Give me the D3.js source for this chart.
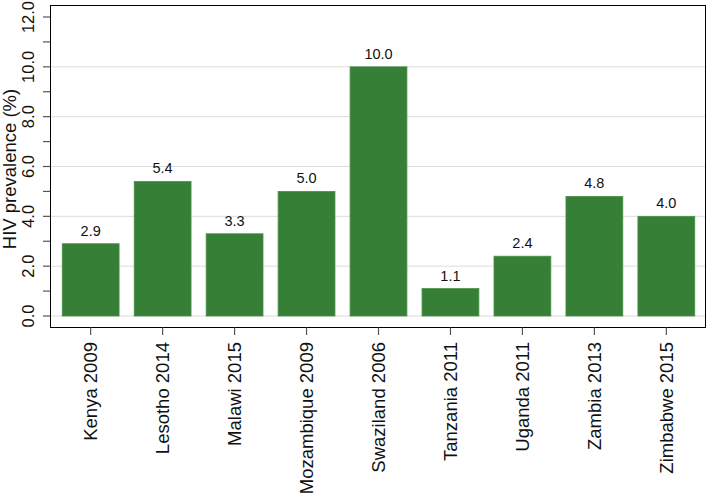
<!DOCTYPE html>
<html>
<head>
<meta charset="utf-8">
<script src="https://cdn.jsdelivr.net/npm/d3@7.9.0/dist/d3.min.js"></script>
<style>
  body { margin: 0; background: #fff; }
  svg { display: block; font-family: "Liberation Sans", Arial, sans-serif; }
</style>
</head>
<body>
<svg width="707" height="494"></svg>
<script>
const countries = ['Kenya 2009', 'Lesotho 2014', 'Malawi 2015', 'Mozambique 2009',
  'Swaziland 2006', 'Tanzania 2011', 'Uganda 2011', 'Zambia 2013', 'Zimbabwe 2015'];
const prevalence = [2.9, 5.4, 3.3, 5.0, 10.0, 1.1, 2.4, 4.8, 4.0];
const majorTicks = [0, 2, 4, 6, 8, 10, 12];
const minorTicks = [1, 3, 5, 7, 9, 11];

const svg = d3.select('svg');
const plotLeft = 50, plotRight = 706, plotTop = 5, plotBottom = 327;

const x = d3.scaleBand()
  .domain(countries)
  .range([plotLeft, 707])
  .paddingInner(0.21)
  .paddingOuter(0.17);

const y = d3.scaleLinear().domain([0, 12]).range([316, 17]);

// gridlines (0 to 10)
svg.append('g')
  .selectAll('line')
  .data(majorTicks.filter(d => d < 12))
  .join('line')
  .attr('x1', plotLeft).attr('x2', plotRight)
  .attr('y1', d => y(d)).attr('y2', d => y(d))
  .attr('stroke', '#dcdcdc')
  .attr('stroke-width', 1);

// bars
svg.append('g')
  .selectAll('rect')
  .data(prevalence)
  .join('rect')
  .attr('x', (d, i) => x(countries[i]))
  .attr('width', x.bandwidth())
  .attr('y', d => y(d))
  .attr('height', d => y(0) - y(d))
  .attr('fill', '#367f36')
  .attr('stroke', '#4a8f4a')
  .attr('stroke-width', 0.8);

// value labels
svg.append('g')
  .selectAll('text')
  .data(prevalence)
  .join('text')
  .attr('x', (d, i) => x(countries[i]) + x.bandwidth() / 2)
  .attr('y', d => y(d) - 8)
  .attr('text-anchor', 'middle')
  .attr('font-size', '14.5px')
  .attr('fill', '#111')
  .text(d => d.toFixed(1));

// frame
svg.append('rect')
  .attr('x', plotLeft + 0.5).attr('y', plotTop + 0.5)
  .attr('width', plotRight - plotLeft - 1).attr('height', plotBottom - plotTop)
  .attr('fill', 'none')
  .attr('stroke', '#000')
  .attr('stroke-width', 1);

// y axis ticks
const yAxis = svg.append('g');
yAxis.selectAll('line')
  .data(majorTicks.concat(minorTicks))
  .join('line')
  .attr('x1', 43).attr('x2', plotLeft)
  .attr('y1', d => y(d)).attr('y2', d => y(d))
  .attr('stroke', '#555')
  .attr('stroke-width', 1.2);

yAxis.selectAll('text')
  .data(majorTicks)
  .join('text')
  .attr('transform', d => `translate(34,${y(d)}) rotate(-90)`)
  .attr('text-anchor', 'middle')
  .attr('font-size', '16.5px')
  .attr('fill', '#111')
  .text(d => d.toFixed(1));

svg.append('text')
  .attr('transform', `translate(16,169) rotate(-90)`)
  .attr('text-anchor', 'middle')
  .attr('font-size', '18.5px')
  .attr('fill', '#111')
  .text('HIV prevalence (%)');

// x axis ticks
const xAxis = svg.append('g');
xAxis.selectAll('line')
  .data(countries)
  .join('line')
  .attr('x1', d => x(d) + x.bandwidth() / 2)
  .attr('x2', d => x(d) + x.bandwidth() / 2)
  .attr('y1', plotBottom + 0.5).attr('y2', 335)
  .attr('stroke', '#555')
  .attr('stroke-width', 1.2);

xAxis.selectAll('text')
  .data(countries)
  .join('text')
  .attr('transform', d => `translate(${x(d) + x.bandwidth() / 2 + 6.5},342) rotate(-90)`)
  .attr('text-anchor', 'end')
  .attr('font-size', '18.5px')
  .attr('fill', '#111')
  .text(d => d);
</script>
</body>
</html>
